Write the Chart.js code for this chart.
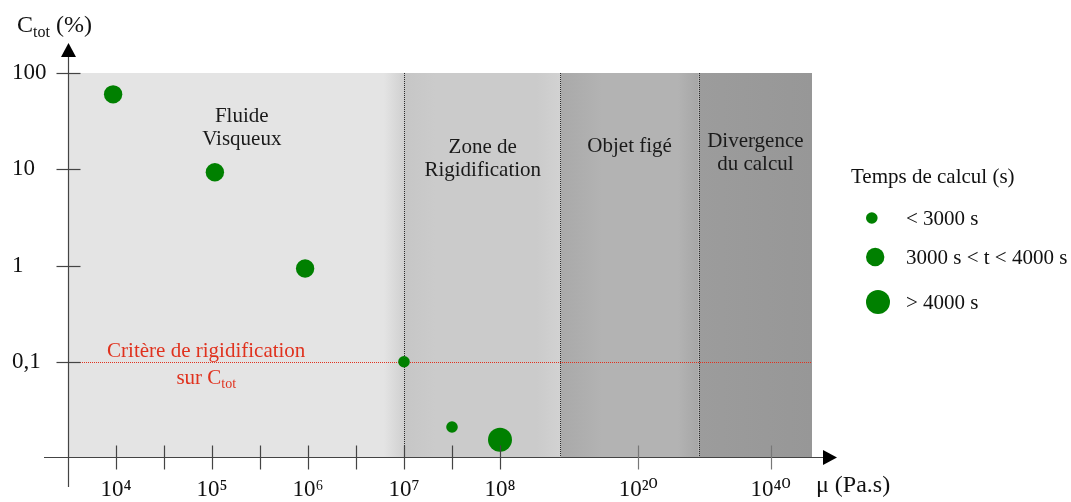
<!DOCTYPE html>
<html lang="fr">
<head>
<meta charset="utf-8">
<title>Temps de calcul selon la viscosité</title>
<script src="https://cdn.jsdelivr.net/npm/chart.js@4.4.1/dist/chart.umd.min.js"></script>
<style>
  html, body { margin: 0; padding: 0; background: #fff; }
  #wrap { width: 1071px; height: 502px; position: relative; }
</style>
</head>
<body>
<div id="wrap"><canvas id="viscoChart"></canvas></div>
<script>
// Données
// Position sur l'axe des viscosités, en décades (l'axe est coupé après 10^8)
const muPos = [3.97, 5.03, 5.97, 7.0, 7.5, 8.0];
// C_tot (%)
const cTot = [60, 9.3, 0.93, 0.1, 0.021, 0.0155];
// Classe de temps de calcul de chaque point (0 : < 3000 s, 1 : 3000-4000 s, 2 : > 4000 s)
const tempsClasse = [1, 1, 1, 0, 0, 2];
const classes = ['< 3000 s', '3000 s < t < 4000 s', '> 4000 s'];

// Graduations
const xTickPos = [4, 5, 6, 7, 8, 9.44, 10.82];
const xTickLabels = ['10⁴', '10⁵', '10⁶', '10⁷', '10⁸', '10²⁰', '10⁴⁰'];
const xMinorPos = [4, 4.5, 5, 5.5, 6, 6.5, 7, 7.5, 8, 9.44, 10.82];
const yTickVals = [0.1, 1, 10, 100];
const yTickLabels = ['0,1', '1', '10', '100'];

// Zones de comportement (limites sur l'axe des viscosités)
const zoneLimites = [3.5, 7.0, 8.63, 10.07, 11.25];
const zoneNoms = [['Fluide', 'Visqueux'], ['Zone de', 'Rigidification'], ['Objet figé'], ['Divergence', 'du calcul']];
// Critère de rigidification sur C_tot
const critere = 0.1;

// Emplacement des textes (coordonnées des axes)
const zoneTexteX = [5.31, 7.82, 9.35, 10.66];
const zoneTexteY = [31, 14.8, 15, 17];
const critereTexteX = 4.94;
const critereTexteY = 0.112;

// Styles
const VERT = '#008000';
const ROUGE = '#e0321e';
const POLICE = "'Liberation Serif', 'DejaVu Serif', serif";
const rayons = [5.8, 9.2, 12];
const zoneDegrades = [
    [[0, '#e4e4e4'], [0.94, '#e4e4e4'], [1, '#d0d0d0']],
    [[0, '#c6c6c6'], [0.2, '#cbcbcb'], [0.85, '#cbcbcb'], [1, '#d2d2d2']],
    [[0, '#a9a9a9'], [0.3, '#b3b3b3'], [0.85, '#b3b3b3'], [1, '#a6a6a6']],
    [[0, '#9c9c9c'], [1, '#979797']]
];

// Construction des jeux de données, un par classe de temps
function buildDatasets() {
    return classes.map(function(nom, k) {
        const pts = [];
        muPos.forEach(function(x, i) {
            if (tempsClasse[i] === k) pts.push({ x: x, y: cTot[i] });
        });
        return {
            label: nom,
            data: pts,
            backgroundColor: VERT,
            borderWidth: 0,
            pointRadius: rayons[k],
            pointHoverRadius: rayons[k]
        };
    });
}

// Texte avec indice (C_tot)
function drawIndice(ctx, base, indice, x, y, taille, align) {
    ctx.font = taille + 'px ' + POLICE;
    const wb = ctx.measureText(base).width;
    ctx.font = Math.round(taille * 0.66) + 'px ' + POLICE;
    const wi = ctx.measureText(indice).width;
    let x0 = x;
    if (align === 'center') x0 = x - (wb + wi) / 2;
    ctx.textAlign = 'left';
    ctx.font = taille + 'px ' + POLICE;
    ctx.fillText(base, x0, y);
    ctx.font = Math.round(taille * 0.66) + 'px ' + POLICE;
    ctx.fillText(indice, x0 + wb, y + taille * 0.2);
    return x0 + wb + wi;
}

function drawFleche(ctx, x, y, dir) {
    ctx.beginPath();
    if (dir === 'haut') {
        ctx.moveTo(x, y);
        ctx.lineTo(x - 7.5, y + 14);
        ctx.lineTo(x + 7.5, y + 14);
    } else {
        ctx.moveTo(x, y);
        ctx.lineTo(x - 14, y - 7.5);
        ctx.lineTo(x - 14, y + 7.5);
    }
    ctx.closePath();
    ctx.fill();
}

// Fonds, séparations, textes, axes et légende
const decorPlugin = {
    id: 'decor',
    beforeDatasetsDraw(chart) {
        const { ctx, chartArea: a, scales: { x, y } } = chart;
        ctx.save();

        // Fonds des zones
        for (let i = 0; i < zoneNoms.length; i++) {
            const x0 = x.getPixelForValue(zoneLimites[i]);
            const x1 = x.getPixelForValue(zoneLimites[i + 1]);
            const g = ctx.createLinearGradient(x0, 0, x1, 0);
            zoneDegrades[i].forEach(s => g.addColorStop(s[0], s[1]));
            ctx.fillStyle = g;
            ctx.fillRect(x0, a.top, x1 - x0, a.bottom - a.top);
        }

        // Séparations pointillées
        ctx.setLineDash([1, 1]);
        ctx.lineWidth = 1;
        ctx.strokeStyle = '#2a2a2a';
        for (let i = 1; i < zoneLimites.length - 1; i++) {
            const px = Math.round(x.getPixelForValue(zoneLimites[i])) + 0.5;
            ctx.beginPath();
            ctx.moveTo(px, a.top);
            ctx.lineTo(px, a.bottom);
            ctx.stroke();
        }

        // Ligne du critère
        const py = Math.round(y.getPixelForValue(critere)) + 0.5;
        ctx.strokeStyle = ROUGE;
        ctx.beginPath();
        ctx.moveTo(a.left, py);
        ctx.lineTo(a.right, py);
        ctx.stroke();
        ctx.setLineDash([]);

        // Noms des zones
        ctx.fillStyle = '#1a1a1a';
        ctx.font = '21px ' + POLICE;
        ctx.textAlign = 'center';
        ctx.textBaseline = 'alphabetic';
        zoneNoms.forEach(function(lignes, i) {
            const tx = x.getPixelForValue(zoneTexteX[i]);
            const ty = y.getPixelForValue(zoneTexteY[i]);
            lignes.forEach(function(l, j) {
                ctx.fillText(l, tx, ty + j * 23);
            });
        });

        // Texte du critère
        const cx = x.getPixelForValue(critereTexteX);
        const cy = y.getPixelForValue(critereTexteY);
        ctx.fillStyle = ROUGE;
        ctx.fillText('Critère de rigidification', cx, cy);
        drawIndice(ctx, 'sur C', 'tot', cx, cy + 27, 21, 'center');

        ctx.restore();
    },
    afterDatasetsDraw(chart) {
        const { ctx, chartArea: a, scales: { x, y } } = chart;
        ctx.save();
        ctx.strokeStyle = '#444';
        ctx.fillStyle = '#000';
        ctx.lineWidth = 1.2;

        // Axe vertical
        const ax = Math.round(a.left) + 0.5;
        ctx.beginPath();
        ctx.moveTo(ax, a.top - 16);
        ctx.lineTo(ax, a.bottom + 29);
        ctx.stroke();
        drawFleche(ctx, ax, a.top - 30, 'haut');

        // Axe horizontal
        const ay = Math.round(a.bottom) - 0.5;
        ctx.beginPath();
        ctx.moveTo(a.left - 24, ay);
        ctx.lineTo(a.right + 12, ay);
        ctx.stroke();
        drawFleche(ctx, a.right + 25, ay, 'droite');

        // Graduations
        yTickVals.forEach(function(v) {
            const py = Math.round(y.getPixelForValue(v)) + 0.5;
            ctx.beginPath();
            ctx.moveTo(ax - 12, py);
            ctx.lineTo(ax + 12, py);
            ctx.stroke();
        });
        xMinorPos.forEach(function(v) {
            const px = Math.round(x.getPixelForValue(v)) + 0.5;
            ctx.strokeStyle = v > 8 ? '#777' : '#444';
            ctx.beginPath();
            ctx.moveTo(px, ay - 12);
            ctx.lineTo(px, ay + 12);
            ctx.stroke();
        });

        // Titres des axes
        ctx.fillStyle = '#111';
        ctx.textBaseline = 'alphabetic';
        const fin = drawIndice(ctx, 'C', 'tot', 17, 32, 24, 'left');
        ctx.font = '24px ' + POLICE;
        ctx.fillText(' (%)', fin, 32);
        ctx.fillText('μ (Pa.s)', a.right + 4, 492);

        // Légende
        ctx.font = '21px ' + POLICE;
        ctx.textAlign = 'left';
        ctx.fillText('Temps de calcul (s)', a.right + 39, 183);
        const legY = [218, 257, 302];
        chart.data.datasets.forEach(function(ds, k) {
            const r = ds.pointRadius;
            ctx.fillStyle = ds.backgroundColor;
            ctx.beginPath();
            ctx.arc(a.right + 54 + r, legY[k], r, 0, Math.PI * 2);
            ctx.fill();
            ctx.fillStyle = '#111';
            ctx.textBaseline = 'middle';
            ctx.fillText(ds.label, a.right + 94, legY[k] + 1);
        });
        ctx.restore();
    }
};

const chart = new Chart(document.getElementById('viscoChart'), {
    type: 'scatter',
    data: { datasets: buildDatasets() },
    options: {
        responsive: true,
        maintainAspectRatio: false,
        animation: false,
        events: [],
        layout: { padding: { left: 12, top: 73, right: 259, bottom: 0 } },
        scales: {
            x: {
                type: 'linear',
                min: 3.5,
                max: 11.25,
                grid: { display: false, drawTicks: false },
                border: { display: false },
                afterBuildTicks: function(scale) {
                    scale.ticks = xTickPos.map(v => ({ value: v }));
                },
                afterFit: function(scale) { scale.height = 44; },
                ticks: {
                    autoSkip: false,
                    maxRotation: 0,
                    padding: 18,
                    color: '#111',
                    font: { family: POLICE, size: 23 },
                    callback: function(value, index) { return xTickLabels[index]; }
                }
            },
            y: {
                type: 'logarithmic',
                min: 0.01,
                max: 100,
                grid: { display: false, drawTicks: false },
                border: { display: false },
                afterBuildTicks: function(scale) {
                    scale.ticks = yTickVals.map(v => ({ value: v }));
                },
                afterFit: function(scale) { scale.width = 56; },
                ticks: {
                    crossAlign: 'far',
                    color: '#111',
                    font: { family: POLICE, size: 23 },
                    callback: function(value, index) { return yTickLabels[index]; }
                }
            }
        },
        plugins: {
            legend: { display: false },
            tooltip: { enabled: false }
        }
    },
    plugins: [decorPlugin]
});
</script>
</body>
</html>
